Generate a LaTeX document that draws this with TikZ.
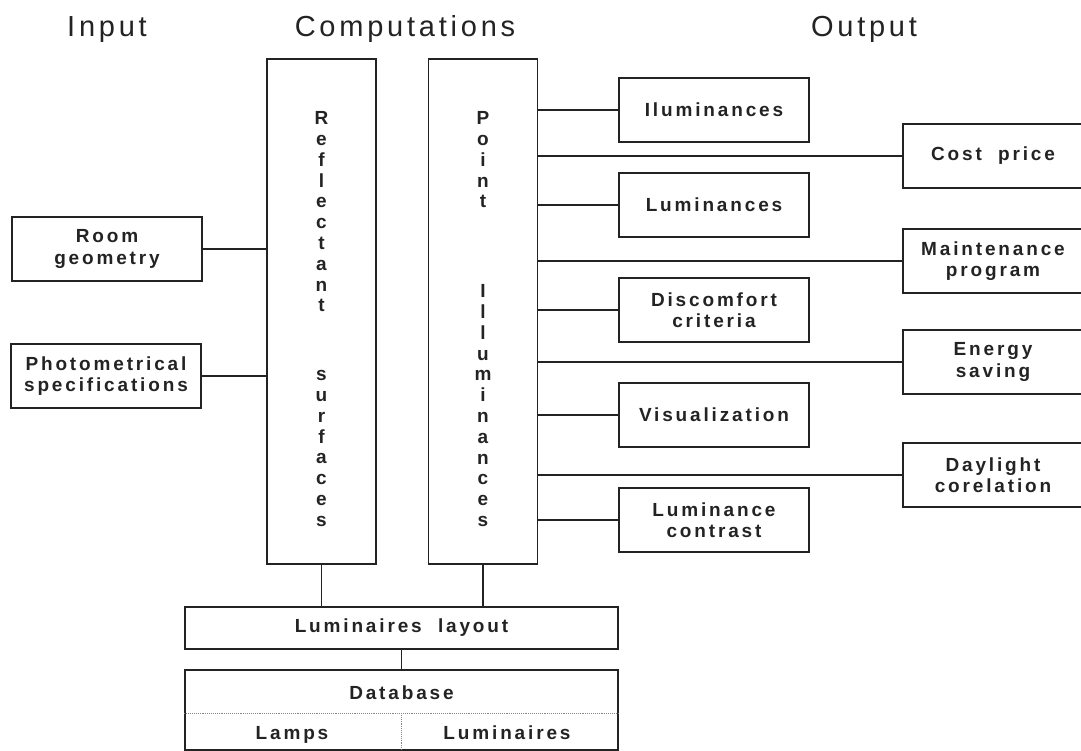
\documentclass[tikz,border=0pt]{standalone}
\usepackage{fontspec}
\setmainfont{Liberation Sans}
\newfontfamily\boxfam[LetterSpace=15,WordSpace=2]{Liberation Sans}
\newfontfamily\headfam[LetterSpace=13,WordSpace=1.5]{Liberation Sans}
\usepackage{tikz}
\usetikzlibrary{positioning}
\definecolor{ink}{RGB}{35,35,35}
\newcommand{\boxfont}{\boxfam\fontsize{19}{21.5}\selectfont\bfseries}
\newcommand{\colfont}{\fontsize{19}{20.8}\selectfont\bfseries}
\newcommand{\headfont}{\headfam\fontsize{29}{32}\selectfont}

\begin{document}
\begin{tikzpicture}[
  x=1pt, y=-1pt,
  box/.style={draw=ink, line width=1.1pt, minimum width=190pt, minimum height=64pt, inner sep=0pt, align=center, text=ink, font=\boxfont},
  outbox/.style={box, minimum width=180pt},
  wide/.style={box, minimum width=433pt},
  tall/.style={draw=ink, line width=1.2pt, minimum width=109pt, minimum height=505pt},
  coltext/.style={inner sep=0pt, align=center, text=ink, font=\colfont},
  cell/.style={inner sep=0pt, anchor=base, text=ink, font=\boxfont},
  head/.style={anchor=base, text=ink, font=\headfont},
  link/.style={draw=ink, line width=1.1pt},
  sep/.style={draw=ink!55, line width=0.9pt, densely dotted}
]
\useasboundingbox (0,0) rectangle (1081,751);
\node[head] (hin) at (107,37) {Input};
\node[head] (hcomp) at (405,37) {Computations};
\node[head] (hout) at (864,37) {Output};

\node[tall] (refl) at (321.5,311.5) {};
\node[tall] (point) at (483,311.5) {};
\node[coltext, below=53pt of refl.north] (refltext) {R\\e\\f\\l\\e\\c\\t\\a\\n\\t\\[48pt]s\\u\\r\\f\\a\\c\\e\\s};
\node[coltext, below=53pt of point.north] (pointtext) {P\\o\\i\\n\\t\\[69pt]I\\l\\l\\u\\m\\i\\n\\a\\n\\c\\e\\s};

\node[box] (room) at (107,249) {Room\\geometry};
\node[box] (photo) at (106,376) {Photometrical\\specifications};

\node[box] (ilum) at (714,110) {Iluminances};
\node[box] (lum) at (714,205) {Luminances};
\node[box] (disc) at (714,310) {Discomfort\\criteria};
\node[box] (vis) at (714,415) {Visualization};
\node[box] (lcon) at (714,520) {Luminance\\contrast};

\node[outbox] (cost) at (993,156) {Cost price};
\node[outbox] (maint) at (993,261) {Maintenance\\program};
\node[outbox] (energy) at (993,362) {Energy\\saving};
\node[outbox] (day) at (993,475) {Daylight\\corelation};

\node[wide, minimum height=42pt] (layout) at (401.5,628) {Luminaires layout};
\node[wide, minimum height=80pt] (db) at (401.5,710) {};
\node[cell] (dbname) at (401.5,699) {Database};
\coordinate (dbsep) at (401.5,713);
\node[cell] (lamps) at (292,739) {Lamps};
\node[cell] (lumin) at (507,739) {Luminaires};

\draw[link] (room.east) -- (room.east -| refl.west);
\draw[link] (photo.east) -- (photo.east -| refl.west);
\foreach \n in {ilum,lum,disc,vis,lcon,cost,maint,energy,day}
  \draw[link] (\n.west) -- (\n.west -| point.east);
\draw[link] (refl.south) -- (refl.south |- layout.north);
\draw[link] (point.south) -- (point.south |- layout.north);
\draw[link] (layout.south) -- (db.north);
\draw[sep] (db.west |- dbsep) -- (db.east |- dbsep);
\draw[sep] (dbsep) -- (dbsep |- db.south);
\end{tikzpicture}
\end{document}
